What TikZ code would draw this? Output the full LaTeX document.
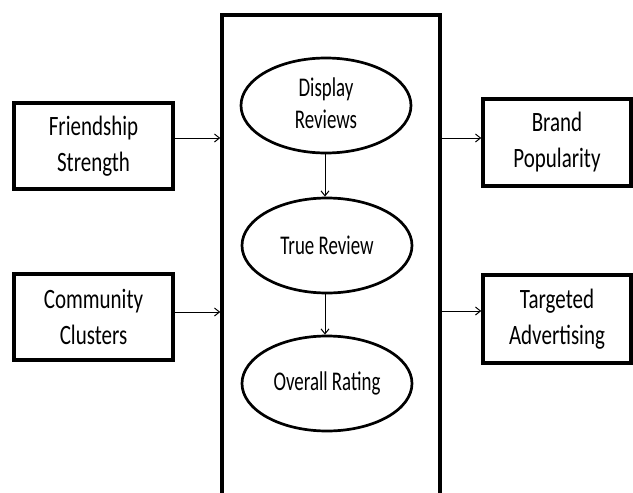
\documentclass[tikz,border=0pt]{standalone}
\usepackage{fontspec}
\usetikzlibrary{arrows.meta,shapes.geometric}
\newfontfamily\boxfont[FakeStretch=0.75]{Carlito}
\newfontfamily\ellfont[FakeStretch=0.70]{Carlito}
\begin{document}
\begin{tikzpicture}[x=1pt,y=-1pt,
  sidebox/.style={draw,line width=3.5pt,rectangle,inner sep=0pt,align=center,
    font=\boxfont\fontsize{28}{36}\selectfont},
  oval/.style={draw,line width=2.7pt,ellipse,inner sep=0pt,align=center,
    minimum width=170pt,minimum height=95pt,
    font=\ellfont\fontsize{27}{32}\selectfont},
  sysbox/.style={draw,line width=3.5pt,rectangle,inner sep=0pt},
  conn/.style={line width=1pt,-{Straight Barb[length=5pt,width=8pt]}}]
\useasboundingbox (0,0) rectangle (633,493);
\fill[white] (0,0) rectangle (633,493);
% system box (open at the bottom edge of the picture)
\node[sysbox,minimum width=218pt,minimum height=500pt] (sys) at (331,265) {};
% left boxes
\node[sidebox,minimum width=159pt,minimum height=86pt] (fs) at (93.5,146) {Friendship\\Strength};
\node[sidebox,minimum width=159pt,minimum height=86pt] (cc) at (93.5,317) {Community\\Clusters};
% right boxes
\node[sidebox,minimum width=148pt,minimum height=87pt] (bp) at (557,142.5) {Brand\\Popularity};
\node[sidebox,minimum width=148pt,minimum height=88pt] (ta) at (557,319) {\raisebox{5pt}{Targeted}\\\raisebox{5pt}{Advertising}};
% ovals
\node[oval] (dr) at (326,105.5) {\raisebox{4pt}{Display}\\\raisebox{4pt}{Reviews}};
\node[oval] (tr) at (327,245.5) {True Review};
\node[oval] (or) at (327,383.5) {Overall Rating};
% connectors
\draw[conn] (fs.east |- 0,138) -- (sys.west |- 0,138);
\draw[conn] (cc.east |- 0,312) -- (sys.west |- 0,312);
\draw[conn] (sys.east |- 0,138) -- (bp.west |- 0,138);
\draw[conn] (sys.east |- 0,311) -- (ta.west |- 0,311);
\draw[conn] (dr.south -| 325,0) -- (tr.north -| 325,0);
\draw[conn] (tr.south -| 325,0) -- (or.north -| 325,0);
\end{tikzpicture}
\end{document}
